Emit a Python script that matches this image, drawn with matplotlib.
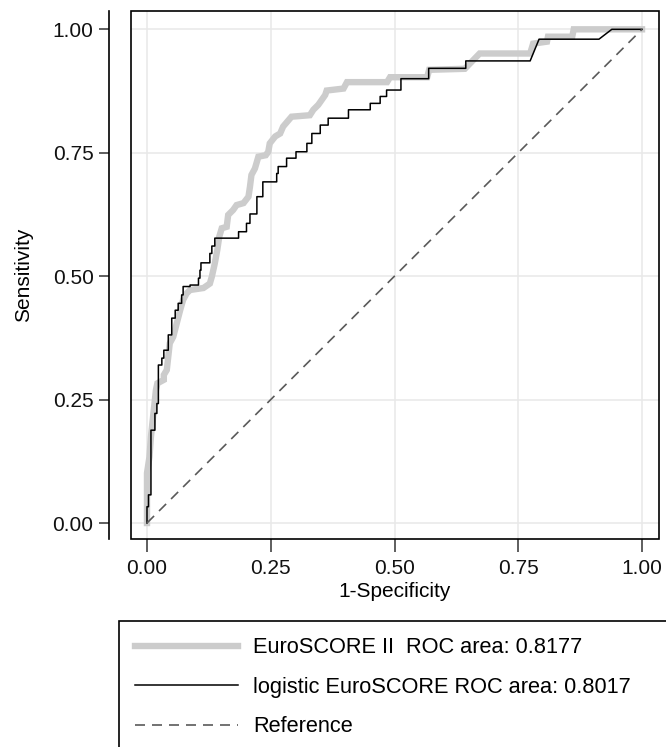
import matplotlib
matplotlib.use("Agg")
import matplotlib.pyplot as plt
from matplotlib.patches import Rectangle

plt.rcParams['font.family'] = ['Liberation Sans', 'DejaVu Sans']

# ---- data (ROC vertices) ----
fpr_es2 = [0, 0, 0.005, 0.008, 0.013, 0.018, 0.021, 0.034, 0.034, 0.040, 0.046, 0.053,
           0.060, 0.067, 0.073, 0.080, 0.087, 0.114, 0.127, 0.131, 0.137, 0.142, 0.146,
           0.151, 0.161, 0.164, 0.174, 0.181, 0.195, 0.205, 0.208, 0.211, 0.218, 0.225,
           0.240, 0.245, 0.248, 0.259, 0.269, 0.275, 0.286, 0.292, 0.329, 0.336, 0.346,
           0.353, 0.360, 0.363, 0.397, 0.404, 0.485, 0.491, 0.566, 0.570, 0.642, 0.672,
           0.774, 0.780, 0.808, 0.810, 0.859, 0.862, 1.0]
tpr_es2 = [0, 0.101, 0.134, 0.175, 0.222, 0.269, 0.283, 0.290, 0.300, 0.310, 0.364, 0.377,
           0.404, 0.431, 0.452, 0.465, 0.472, 0.476, 0.485, 0.499, 0.526, 0.553, 0.580,
           0.597, 0.600, 0.624, 0.634, 0.644, 0.648, 0.661, 0.681, 0.705, 0.718, 0.742,
           0.745, 0.752, 0.769, 0.783, 0.789, 0.803, 0.816, 0.823, 0.826, 0.837, 0.847,
           0.857, 0.867, 0.876, 0.880, 0.893, 0.893, 0.903, 0.903, 0.918, 0.920, 0.951,
           0.951, 0.971, 0.975, 0.985, 0.985, 1.0, 1.0]

fpr_log = [0, 0, 0.003, 0.003, 0.008, 0.008, 0.016, 0.016, 0.020, 0.020, 0.023, 0.023,
           0.030, 0.030, 0.034, 0.034, 0.043, 0.043, 0.050, 0.050, 0.057, 0.057, 0.063,
           0.063, 0.070, 0.070, 0.073, 0.073, 0.087, 0.087, 0.104, 0.104, 0.107, 0.107,
           0.109, 0.109, 0.127, 0.127, 0.131, 0.131, 0.137, 0.137, 0.185, 0.185, 0.201,
           0.201, 0.208, 0.208, 0.222, 0.222, 0.234, 0.234, 0.262, 0.262, 0.265, 0.265,
           0.282, 0.282, 0.301, 0.301, 0.323, 0.323, 0.333, 0.333, 0.350, 0.350, 0.366,
           0.366, 0.407, 0.407, 0.451, 0.451, 0.471, 0.471, 0.484, 0.484, 0.513, 0.513,
           0.569, 0.569, 0.644, 0.644, 0.774, 0.792, 0.913, 0.939, 1.0]
tpr_log = [0, 0.033, 0.033, 0.057, 0.057, 0.188, 0.188, 0.222, 0.222, 0.242, 0.242, 0.320,
           0.320, 0.334, 0.334, 0.350, 0.350, 0.381, 0.381, 0.415, 0.415, 0.431, 0.431,
           0.445, 0.445, 0.462, 0.462, 0.479, 0.479, 0.482, 0.482, 0.496, 0.496, 0.512,
           0.512, 0.527, 0.527, 0.546, 0.546, 0.561, 0.561, 0.577, 0.577, 0.590, 0.590,
           0.607, 0.607, 0.626, 0.626, 0.661, 0.661, 0.691, 0.691, 0.708, 0.708, 0.722,
           0.722, 0.739, 0.739, 0.752, 0.752, 0.769, 0.769, 0.789, 0.789, 0.806, 0.806,
           0.820, 0.820, 0.837, 0.837, 0.850, 0.850, 0.864, 0.864, 0.877, 0.877, 0.900,
           0.900, 0.921, 0.921, 0.936, 0.936, 0.980, 0.980, 1.0, 1.0]

ref_x = [0, 1]
ref_y = [0, 1]

ticks = [0, 0.25, 0.5, 0.75, 1.0]
tick_labels = ["0.00", "0.25", "0.50", "0.75", "1.00"]
legend_labels = ["EuroSCORE II  ROC area: 0.8177",
                 "logistic EuroSCORE ROC area: 0.8017",
                 "Reference"]

W, H = 666, 747
fig = plt.figure(figsize=(W / 100, H / 100), dpi=100)
left, right, top, bottom = 131, 659, 11, 539
ax = fig.add_axes([left / W, 1 - bottom / H, (right - left) / W, (bottom - top) / H])

ax.set_xlim(-0.0323, 1.0343)
ax.set_ylim(-0.0324, 1.0371)

ax.grid(True, color='#e8e8e8', linewidth=1.1, zorder=0)
ax.set_axisbelow(True)

l1, = ax.plot(fpr_es2, tpr_es2, color='#cccccc', linewidth=4.6, solid_joinstyle='miter',
              label=legend_labels[0], zorder=2)
l2, = ax.plot(fpr_log, tpr_log, color='black', linewidth=1.1, label=legend_labels[1], zorder=3)
l3, = ax.plot(ref_x, ref_y, color='#5a5a5a', linewidth=1.2, dashes=(6.0, 4.2),
              label=legend_labels[2], zorder=4)

ax.set_xticks(ticks)
ax.set_xticklabels(tick_labels)
ax.set_yticks(ticks)
ax.set_yticklabels(tick_labels)

fs = 15
ax.tick_params(axis='both', labelsize=fs, colors='#333333', labelcolor='#111111', width=1.1)
ax.tick_params(axis='x', length=9.4, pad=5)
ax.tick_params(axis='y', length=7.2, pad=4)

for s in ['top', 'right', 'bottom']:
    ax.spines[s].set_visible(False)
ax.spines['left'].set_position(('outward', 15.8))
ax.spines['left'].set_linewidth(1.2)
ax.add_patch(Rectangle((0, 0), 1, 1, transform=ax.transAxes, fill=False,
                       edgecolor='black', linewidth=1.2, clip_on=False, zorder=5))

ax.set_xlabel("1-Specificity", fontsize=fs, labelpad=3)
ax.set_ylabel("Sensitivity", fontsize=fs, labelpad=14)

leg = fig.legend(handles=[l1, l2, l3], loc='upper left',
                 bbox_to_anchor=(119 / W, 1 - 780 / H, (700 - 119) / W, (780 - 621) / H),
                 mode='expand', fontsize=15.7, frameon=True, fancybox=False,
                 edgecolor='black', framealpha=1, borderaxespad=0,
                 handlelength=4.7, handletextpad=0.7, labelspacing=0.85, borderpad=0.75)
leg.get_frame().set_linewidth(1.2)

fig.savefig("out.png", dpi=100)
